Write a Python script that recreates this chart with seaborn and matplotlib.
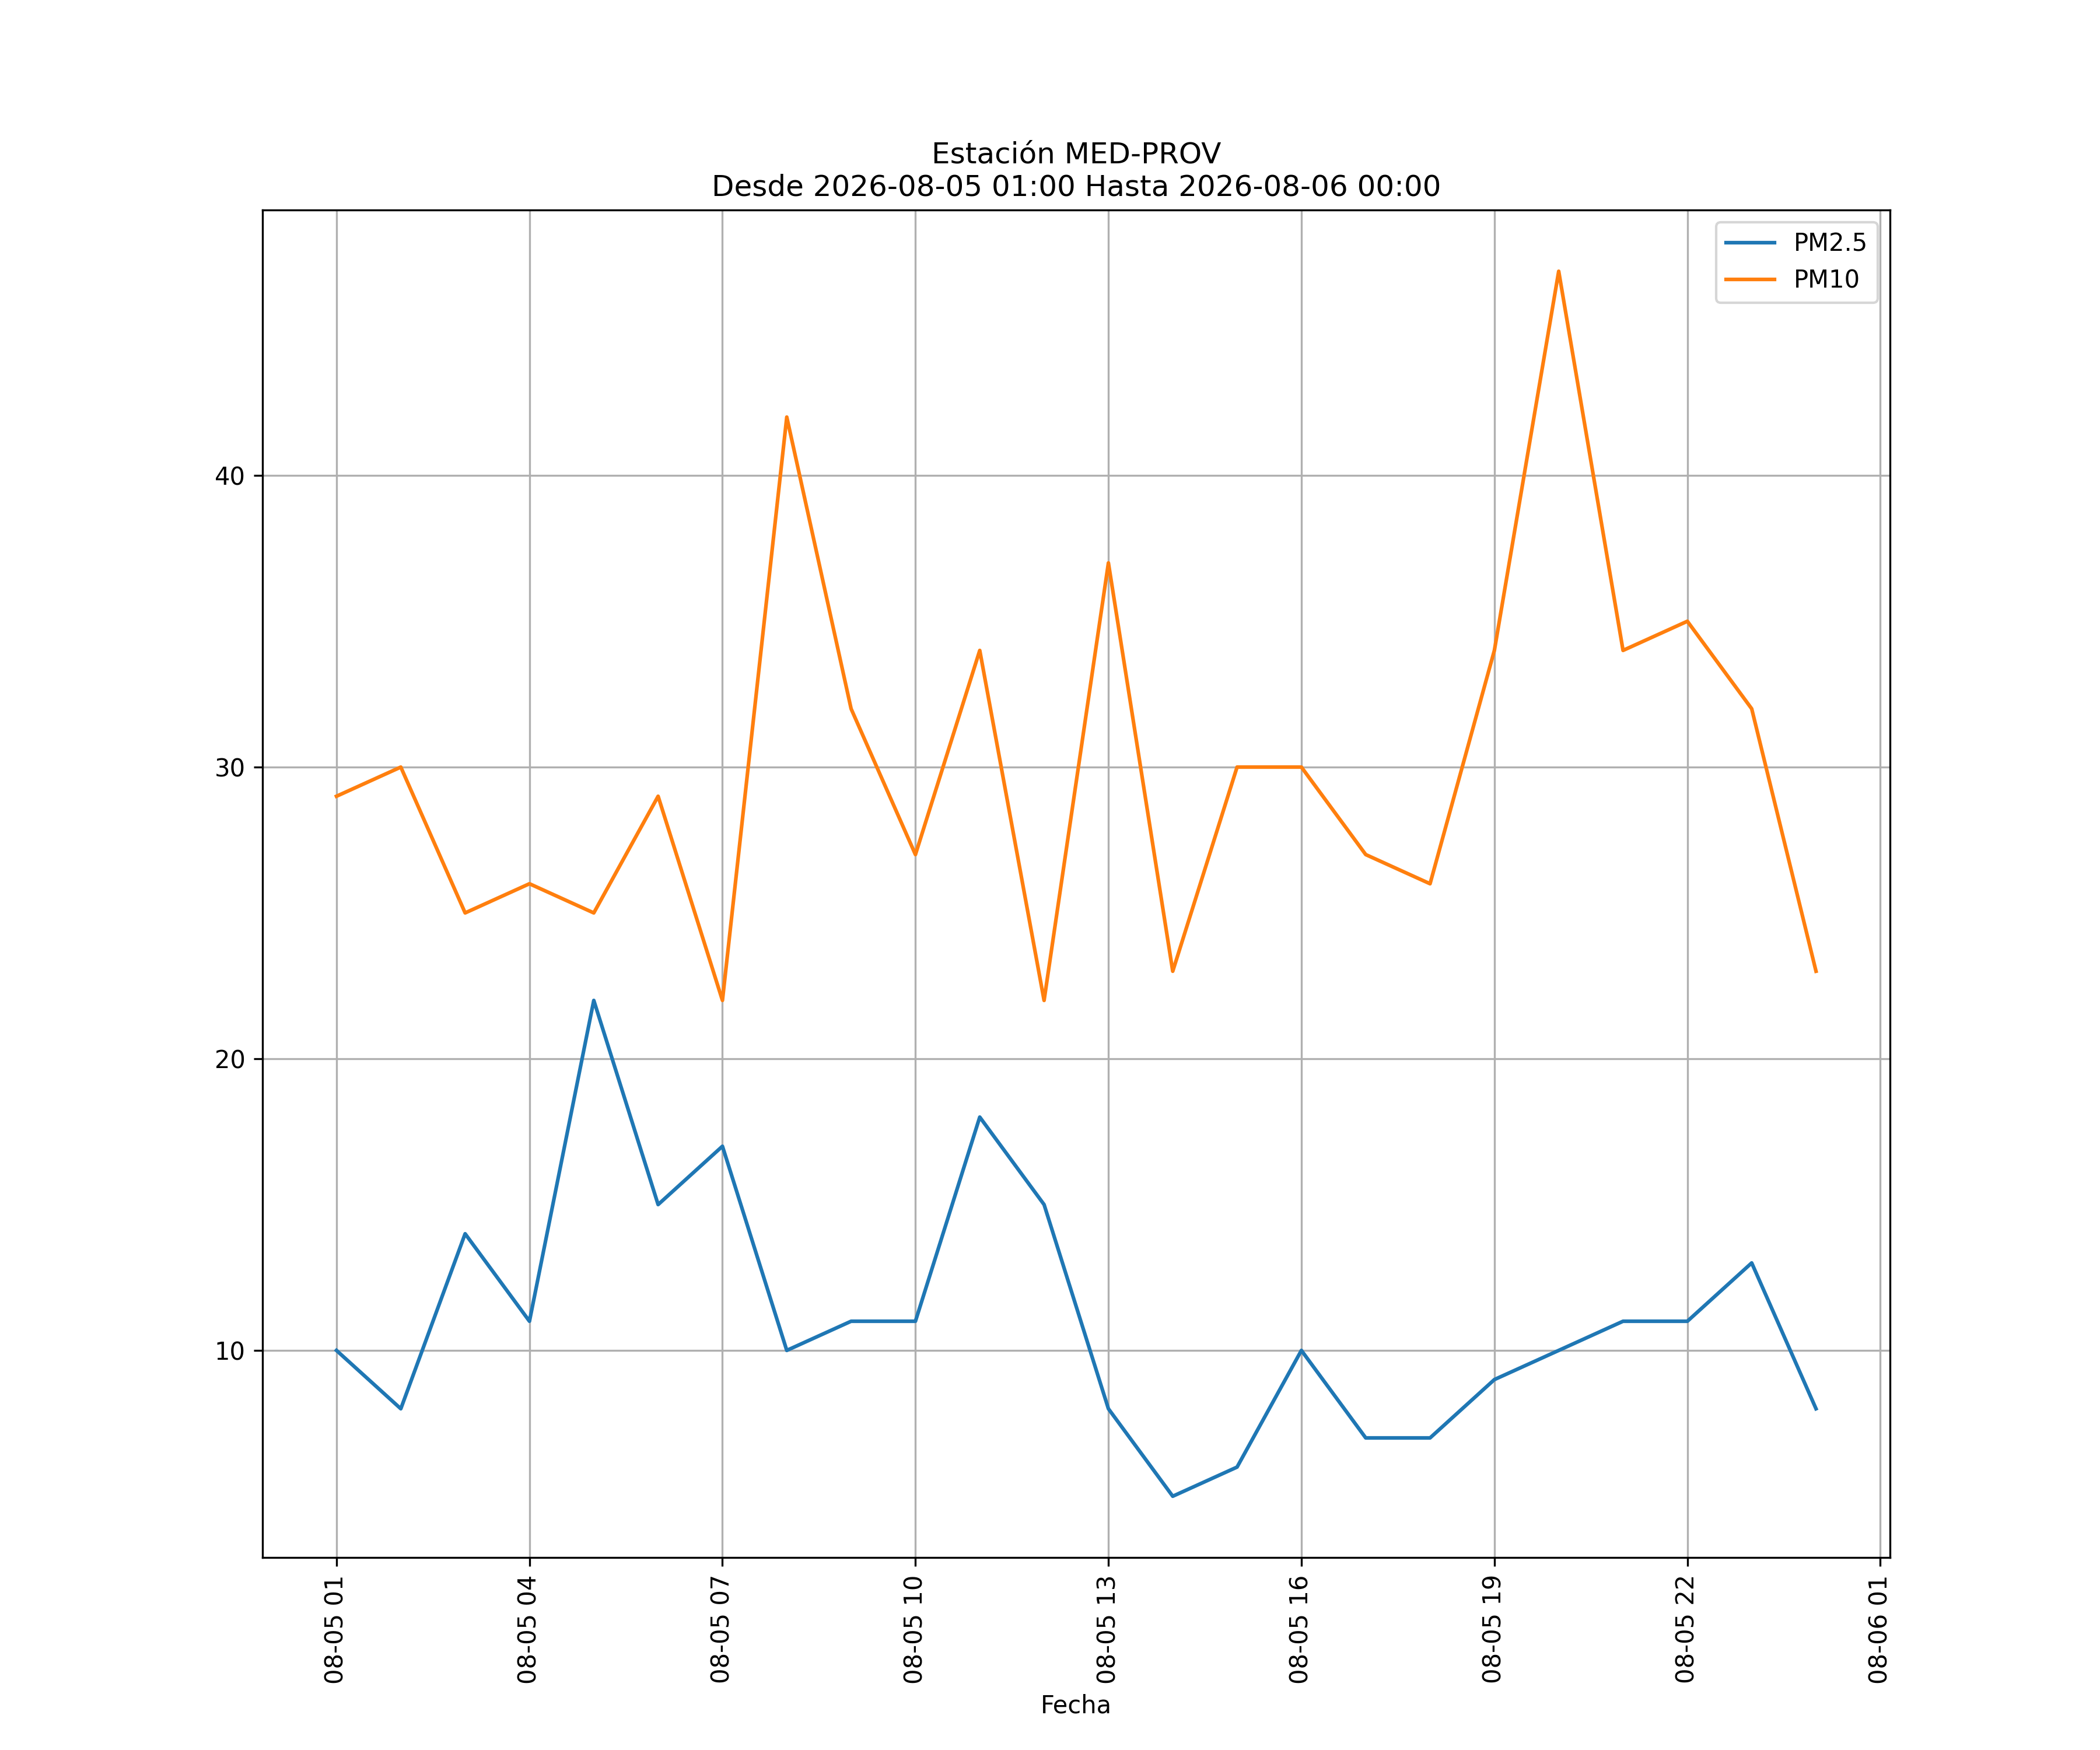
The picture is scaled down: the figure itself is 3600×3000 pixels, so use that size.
import matplotlib
matplotlib.use("Agg")
import matplotlib.pyplot as plt
import matplotlib.dates as mdates
import seaborn as sns
import pandas as pd

# ── Data ────────────────────────────────────────────────
fechas = pd.date_range("2026-08-05 01:00", "2026-08-06 00:00", freq="h")
pm25 = [10, 8, 14, 11, 22, 15, 17, 10, 11, 11, 18, 15,
        8, 5, 6, 10, 7, 7, 9, 10, 11, 11, 13, 8]
pm10 = [29, 30, 25, 26, 25, 29, 22, 42, 32, 27, 34, 22,
        37, 23, 30, 30, 27, 26, 34, 47, 34, 35, 32, 23]
estacion = "MED-PROV"

df = pd.DataFrame({"Fecha": fechas, "PM2.5": pm25, "PM10": pm10})

# ── Plot ────────────────────────────────────────────────
fig, ax = plt.subplots(figsize=(12, 10))
sns.lineplot(data=df, x="Fecha", y="PM2.5", ax=ax, label="PM2.5", color="#1f77b4")
sns.lineplot(data=df, x="Fecha", y="PM10", ax=ax, label="PM10", color="#ff7f0e")

ax.set_title(f"Estación {estacion}\nDesde 2026-08-05 01:00 Hasta 2026-08-06 00:00")
ax.set_xlabel("Fecha")
ax.set_ylabel("")
ax.xaxis.set_major_locator(mdates.HourLocator(byhour=[1, 4, 7, 10, 13, 16, 19, 22]))
ax.xaxis.set_major_formatter(mdates.DateFormatter("%m-%d %H"))
ax.tick_params(axis="x", rotation=90)
ax.grid(True)
ax.legend(loc="upper right")

plt.savefig("out.png", dpi=300)
